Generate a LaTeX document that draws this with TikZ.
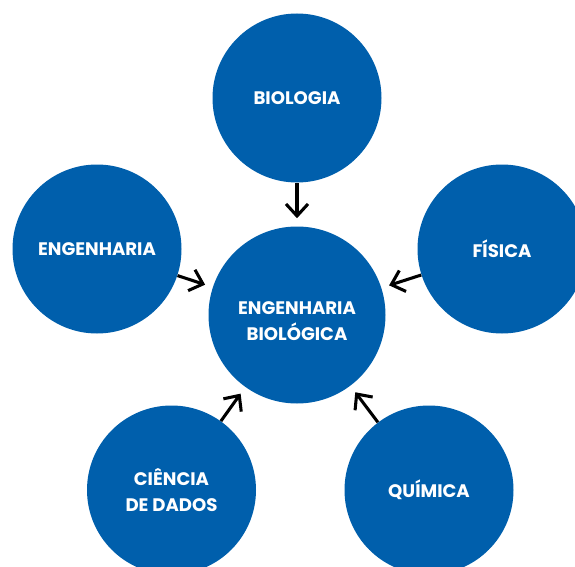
\documentclass[tikz,border=0pt]{standalone}
\usepackage{fontspec}
\setmainfont{Poppins}
\usetikzlibrary{arrows.meta}
\definecolor{azul}{RGB}{0,95,172}

\begin{document}
\begin{tikzpicture}
[x=0.75pt,y=-0.75pt,>={Straight Barb[length=9pt,width=16.5pt]},
circulo/.style = {circle, fill = azul, minimum size = 169*0.75pt, inner sep = 0pt,
  text = white, font = \bfseries\fontsize{13.6}{19.8}\selectfont, align = center},
rotulo/.style = {text = white, font = \bfseries\fontsize{13.6}{19.8}\selectfont, align = center},
seta/.style = {->, line width = 2.3pt, shorten > = 6pt},]
\useasboundingbox (0,0) rectangle (575,567);
\clip (0,0) rectangle (575,567);
\node (centro) at (297,315)[circulo,minimum size=177*0.75pt] {};
\node (centrotexto) at (297,321)[rotulo] {ENGENHARIA\\BIOLÓGICA};
\node (bio) at (297,98)[circulo] {BIOLOGIA};
\node (eng) at (97,249)[circulo] {ENGENHARIA};
\node (fis) at (502,249)[circulo] {FÍSICA};
\node (cien) at (171.5,490)[circulo] {CIÊNCIA\\DE DADOS};
\node (qui) at (429,490)[circulo] {QUÍMICA};
\draw[seta] (bio)--(centro);
\draw[seta] (eng)--(centro);
\draw[seta] (fis)--(centro);
\draw[seta] (cien)--(centro);
\draw[seta] (qui)--(centro);



\end{tikzpicture}
\end{document}
